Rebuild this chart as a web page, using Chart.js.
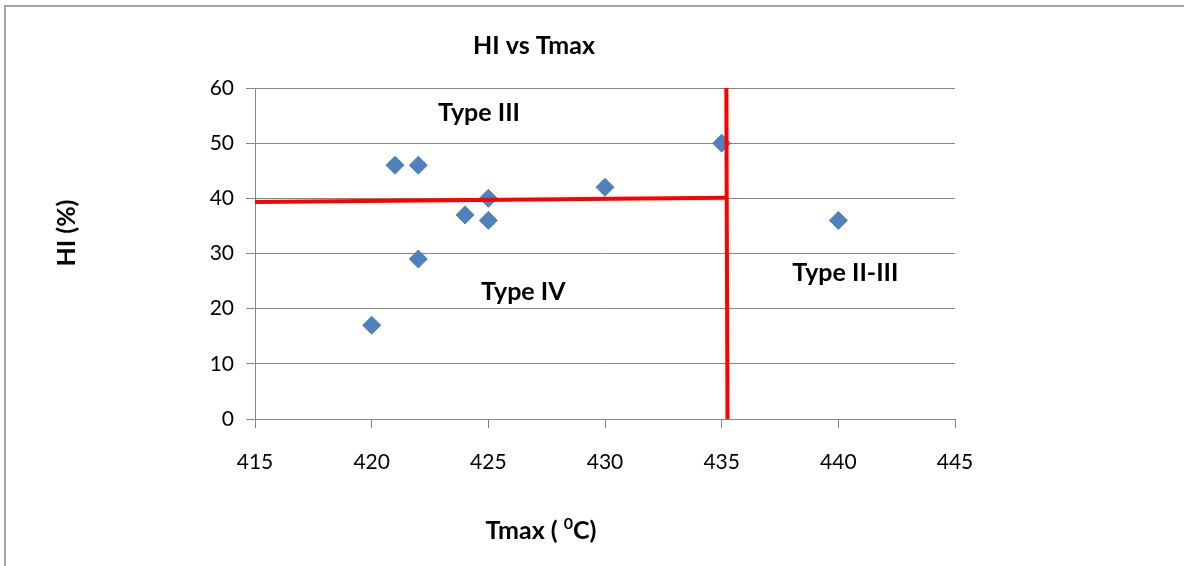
<!DOCTYPE html>
<html>
<head>
<meta charset="utf-8">
<script src="https://cdn.jsdelivr.net/npm/chart.js@4/dist/chart.umd.min.js"></script>
<style>
  html, body { margin: 0; padding: 0; background: #fff; }
  #wrap { width: 1184px; height: 566px; position: relative; }
</style>
</head>
<body>
<div id="wrap"><canvas id="chart" width="1184" height="566"></canvas></div>
<script>
// HI vs Tmax data
const tmaxValues = [420, 421, 422, 422, 424, 425, 425, 430, 435, 440];
const hiValues = [17, 46, 46, 29, 37, 40, 36, 42, 50, 36];

// boundary lines (red)
const hBoundaryX = [415, 435.2];
const hBoundaryY = [39.35, 40.1];
const vBoundaryX = [435.2, 435.25];
const vBoundaryY = [60, 0];

const xTicks = [415, 420, 425, 430, 435, 440, 445];
const yTicks = [0, 10, 20, 30, 40, 50, 60];

// region labels [text, x, y]
const regionLabels = [
    ["Type III", 424.6, 55.5],
    ["Type IV", 426.5, 23],
    ["Type II-III", 440.3, 26.4]
];

const FONT = "Lato, 'Open Sans', sans-serif";

const toPoints = (xs, ys) => xs.map((x, i) => ({ x: x, y: ys[i] }));

const textPlugin = {
    id: "textPlugin",
    beforeDraw(chart) {
        const ctx = chart.ctx;
        ctx.save();
        ctx.fillStyle = "#fff";
        ctx.fillRect(0, 0, chart.width, chart.height);
        ctx.strokeStyle = "#a6a6a6";
        ctx.lineWidth = 2;
        ctx.strokeRect(5, 6, chart.width + 10, chart.height + 10);
        ctx.restore();
    },
    afterDraw(chart) {
        const ctx = chart.ctx;
        const xs = chart.scales.x, ys = chart.scales.y;
        ctx.save();
        ctx.fillStyle = "#000";
        ctx.textAlign = "center";
        ctx.textBaseline = "middle";

        // title
        ctx.font = "bold 25px " + FONT;
        ctx.fillText("HI vs Tmax", 534, 46);

        // region labels
        ctx.font = "bold 25px " + FONT;
        regionLabels.forEach(l => {
            ctx.fillText(l[0], xs.getPixelForValue(l[1]), ys.getPixelForValue(l[2]));
        });

        // x axis title with superscript
        ctx.textAlign = "left";
        const p1 = "Tmax ( ", sup = "0", p2 = "C)";
        ctx.font = "bold 25px " + FONT;
        const w1 = ctx.measureText(p1).width, w3 = ctx.measureText(p2).width;
        ctx.font = "bold 16px " + FONT;
        const w2 = ctx.measureText(sup).width;
        let x0 = 541 - (w1 + w2 + w3) / 2;
        ctx.font = "bold 25px " + FONT;
        ctx.fillText(p1, x0, 531);
        ctx.font = "bold 16px " + FONT;
        ctx.fillText(sup, x0 + w1, 524);
        ctx.font = "bold 25px " + FONT;
        ctx.fillText(p2, x0 + w1 + w2, 531);

        // y axis title
        ctx.translate(67, 233);
        ctx.rotate(-Math.PI / 2);
        ctx.textAlign = "center";
        ctx.font = "bold 25px " + FONT;
        ctx.fillText("HI (%)", 0, 0);
        ctx.restore();
    }
};

new Chart(document.getElementById("chart"), {
    type: "scatter",
    data: {
        datasets: [
            {
                data: toPoints(hBoundaryX, hBoundaryY),
                type: "line",
                showLine: true,
                borderColor: "#ff0000",
                borderWidth: 4,
                pointRadius: 0,
                order: 1
            },
            {
                data: toPoints(vBoundaryX, vBoundaryY),
                type: "line",
                showLine: true,
                borderColor: "#ff0000",
                borderWidth: 4,
                pointRadius: 0,
                order: 1
            },
            {
                data: toPoints(tmaxValues, hiValues),
                pointStyle: "rectRot",
                pointRadius: 9,
                pointHoverRadius: 9,
                backgroundColor: "#4f81bd",
                borderColor: "#4f81bd",
                borderWidth: 1,
                order: 2
            }
        ]
    },
    options: {
        responsive: false,
        animation: false,
        events: [],
        layout: { padding: { left: 0, top: 88, right: 229, bottom: 0 } },
        plugins: {
            legend: { display: false },
            tooltip: { enabled: false }
        },
        scales: {
            x: {
                type: "linear",
                min: 415,
                max: 445,
                afterBuildTicks: s => { s.ticks = xTicks.map(v => ({ value: v })); },
                afterFit: s => { s.height = 147; },
                grid: {
                    drawOnChartArea: false,
                    drawTicks: true,
                    tickLength: 9,
                    color: "#868686"
                },
                border: { color: "#868686", width: 1 },
                ticks: {
                    color: "#000",
                    padding: 22,
                    font: { family: FONT, size: 21 }
                }
            },
            y: {
                type: "linear",
                min: 0,
                max: 60,
                afterBuildTicks: s => { s.ticks = yTicks.map(v => ({ value: v })); },
                afterFit: s => { s.width = 255; },
                grid: {
                    drawTicks: true,
                    tickLength: 9,
                    color: "#868686"
                },
                border: { color: "#868686", width: 1 },
                ticks: {
                    color: "#000",
                    padding: 12,
                    font: { family: FONT, size: 21 }
                }
            }
        }
    },
    plugins: [textPlugin]
});
</script>
</body>
</html>
